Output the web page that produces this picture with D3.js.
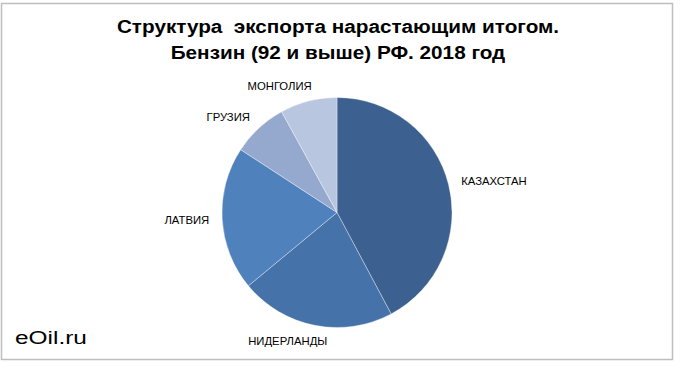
<!DOCTYPE html>
<html><head><meta charset="utf-8">
<script src="https://cdn.jsdelivr.net/npm/d3@7"></script>
<style>html,body{margin:0;padding:0;background:#fff;}svg{display:block;}</style>
</head><body>
<svg id="chart" width="680" height="367"></svg>
<script>
const titleLines = ["Структура  экспорта нарастающим итогом.", "Бензин (92 и выше) РФ. 2018 год"];
const categories = ["КАЗАХСТАН", "НИДЕРЛАНДЫ", "ЛАТВИЯ", "ГРУЗИЯ", "МОНГОЛИЯ"];
const values = [42.2, 21.8, 20.2, 7.8, 8.0];
const colors = ["#3C6190", "#4572A8", "#4F81BD", "#95A9CF", "#B9C6E0"];
const watermark = "eOil.ru";

const W = 680, H = 367;
const FONT = "Liberation Sans, Arial, sans-serif";
const svg = d3.select("#chart");
svg.append("rect").attr("x", 1.5).attr("y", 3.5).attr("width", 671).attr("height", 356)
  .attr("fill", "#fff").attr("stroke", "#BEBEBE").attr("stroke-width", 1.5);

const titleG = svg.append("g").attr("transform", "translate(338,0) scale(1.12,1)");
const title = titleG.append("text").attr("text-anchor", "middle")
  .attr("font-family", FONT).attr("font-weight", "bold")
  .attr("font-size", 18.5).attr("fill", "#000").attr("xml:space", "preserve")
  .style("white-space", "pre");
titleLines.forEach((t, i) => title.append("tspan").attr("x", 0).attr("y", 33 + i * 26).text(t));

const cx = 337, cy = 212.5, R = 115;
const pie = d3.pie().sort(null).value(d => d);
const arcs = pie(values);
const arc = d3.arc().innerRadius(0).outerRadius(R);
const g = svg.append("g").attr("transform", `translate(${cx},${cy})`);
g.selectAll("path").data(arcs).join("path")
  .attr("d", arc).attr("fill", (d, i) => colors[i])
  .attr("stroke", "#fff").attr("stroke-width", 0.5).attr("stroke-opacity", 0.7);

const gap = 13, fs = 11.3;
const labels = g.selectAll("text.lbl").data(arcs).join("text").attr("class", "lbl")
  .attr("font-family", FONT).attr("font-size", fs)
  .attr("fill", "#000").attr("text-anchor", "middle").attr("dominant-baseline", "central")
  .text((d, i) => categories[i]);
labels.each(function(d) {
  const w = this.getComputedTextLength(), h = fs;
  const a = (d.startAngle + d.endAngle) / 2;
  const s = Math.sin(a), c = Math.cos(a);
  const fx = Math.max(-1, Math.min(1, 3.2 * s));
  const x = (R + gap) * s + fx * w / 2;
  const y = -(R + gap) * c - c * h / 4;
  d3.select(this).attr("x", x).attr("y", y);
});

svg.append("g").attr("transform", "translate(15,344) scale(1.32,1)")
  .append("text").attr("x", 0).attr("y", 0)
  .attr("font-family", FONT).attr("font-size", 18.5)
  .attr("fill", "#000").text(watermark);
</script>
</body></html>
